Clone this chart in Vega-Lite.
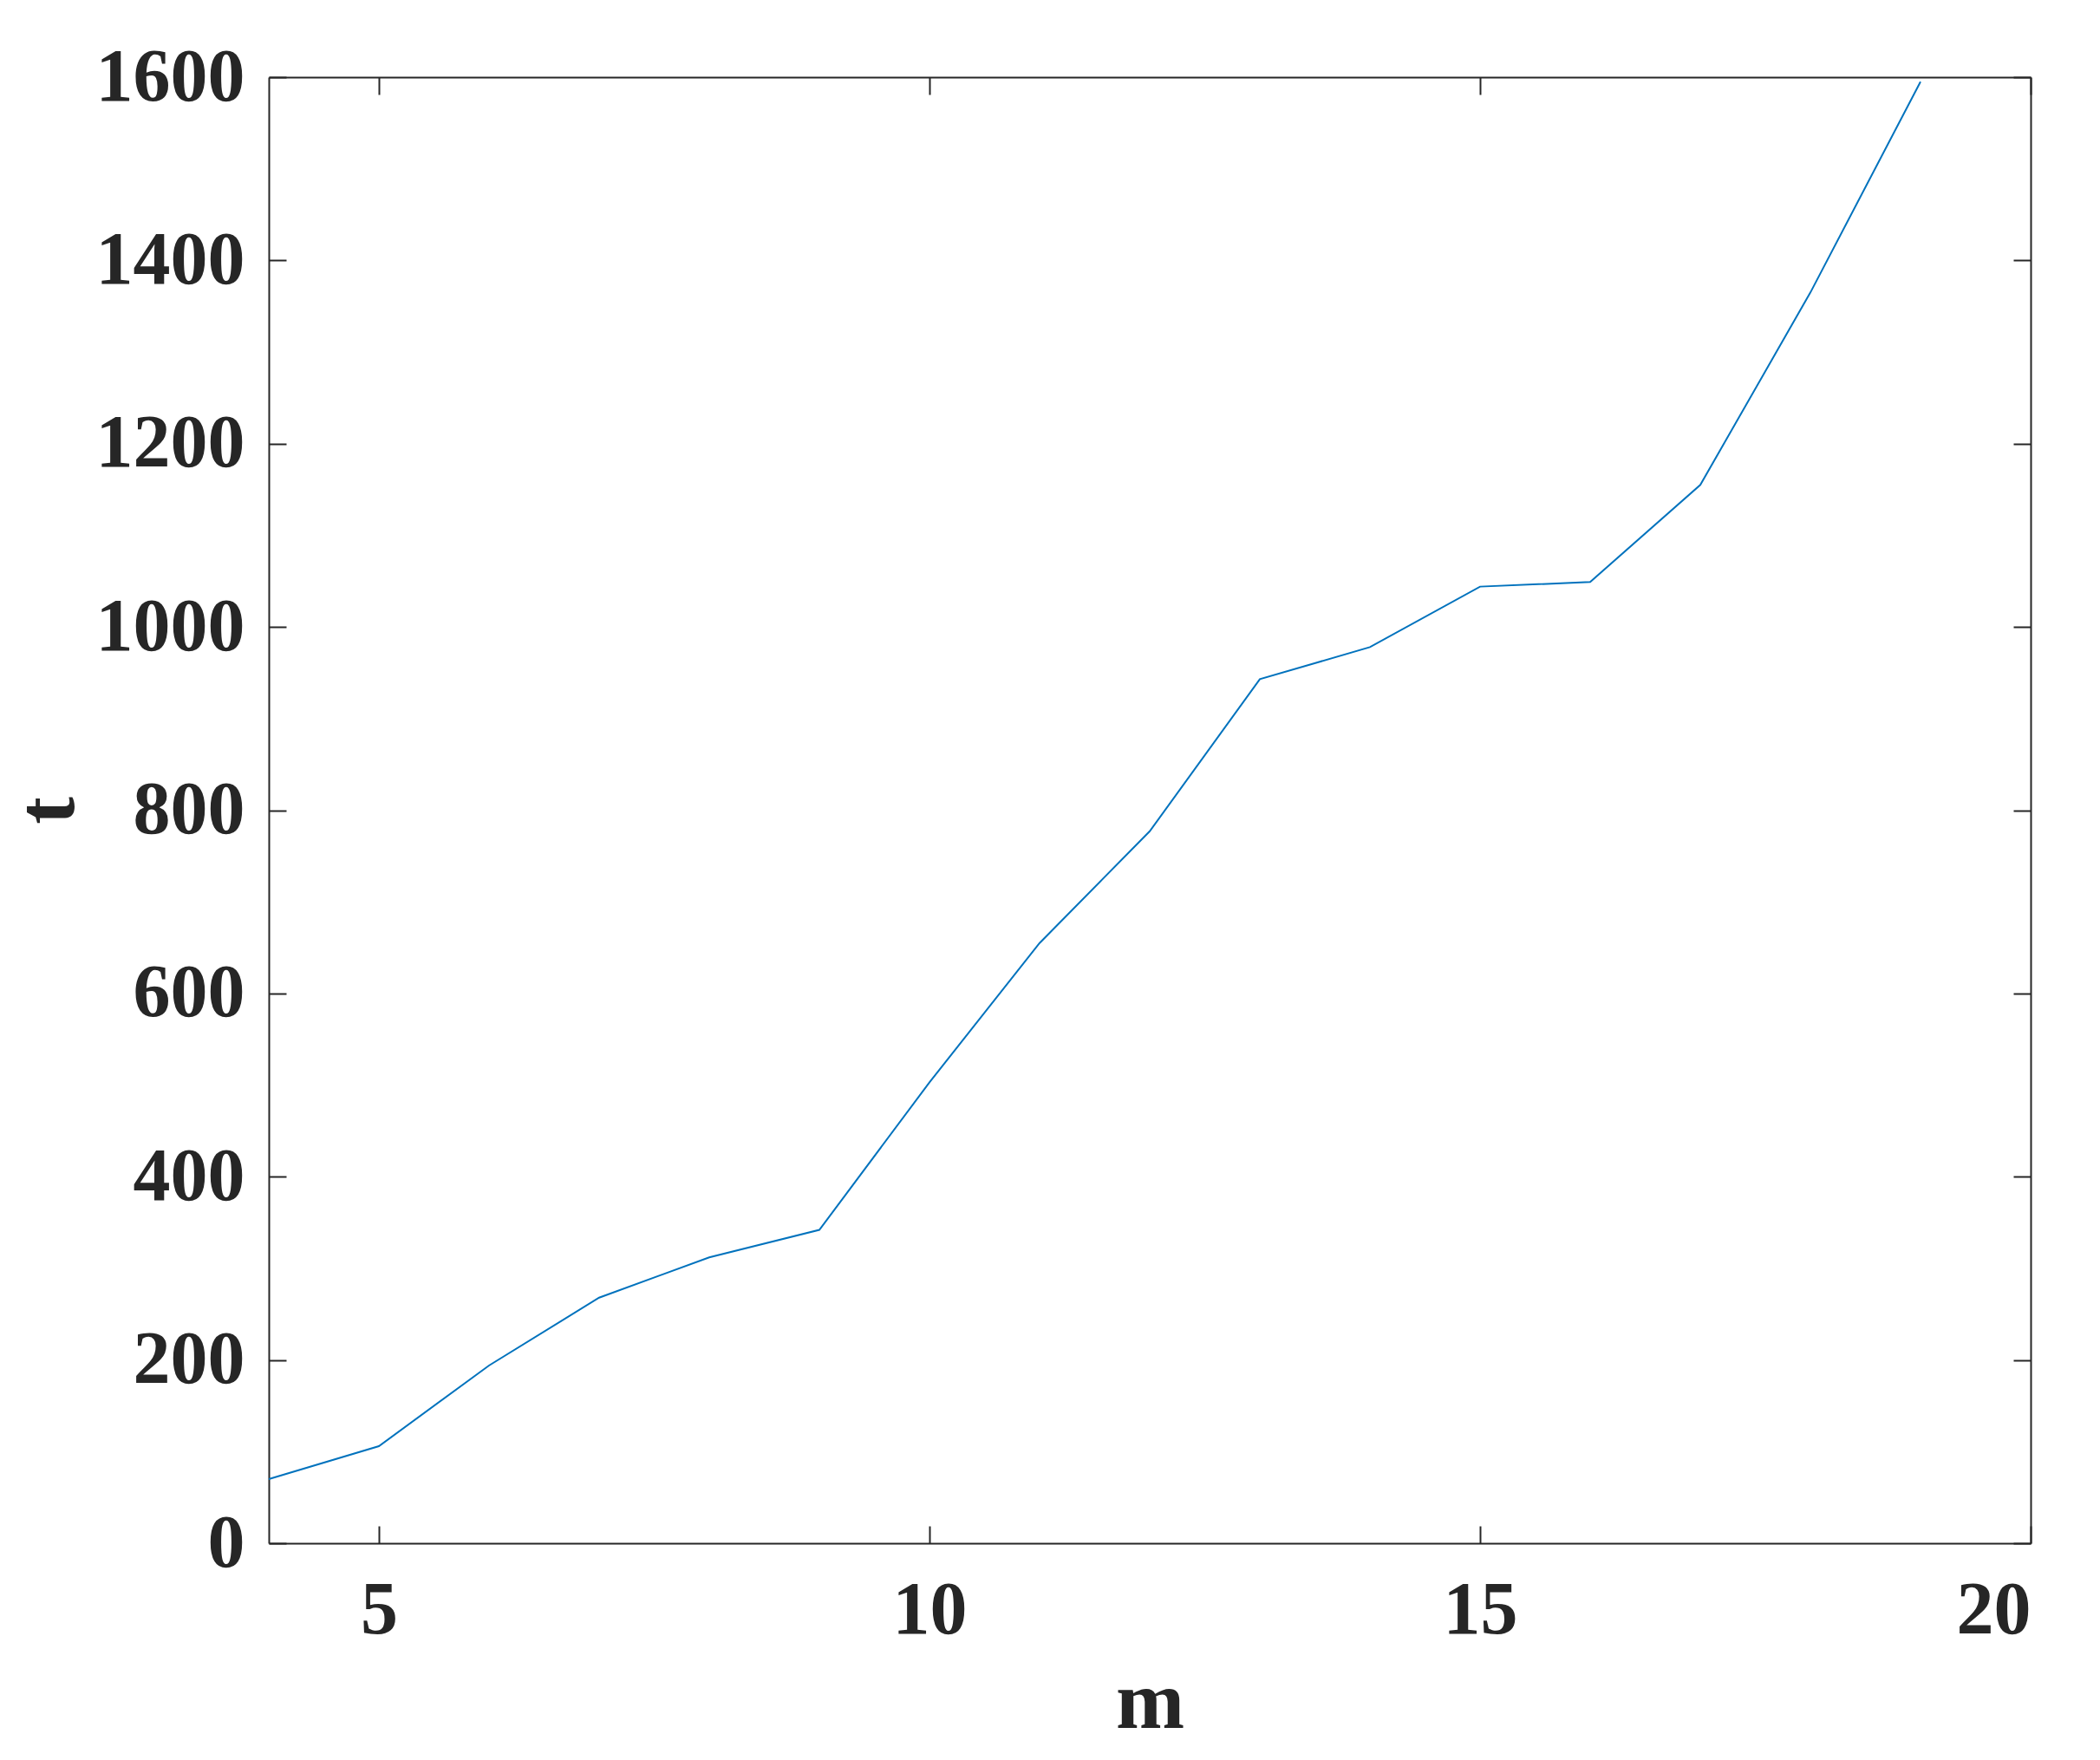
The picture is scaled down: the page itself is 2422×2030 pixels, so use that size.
{
  "$schema": "https://vega.github.io/schema/vega-lite/v6.json",
  "width": 2032,
  "height": 1691,
  "autosize": {"type": "none"},
  "padding": {"left": 310, "top": 89, "right": 80, "bottom": 250},
  "background": "white",
  "config": {
    "view": {"stroke": null},
    "axis": {
      "labelFont": "Liberation Serif",
      "labelFontWeight": "bold",
      "labelFontSize": 86,
      "labelColor": "#262626",
      "labelLimit": 0,
      "titleFont": "Liberation Serif",
      "titleFontWeight": "bold",
      "titleFontSize": 95,
      "titleColor": "#262626",
      "domainColor": "#262626",
      "domainWidth": 2,
      "tickColor": "#262626",
      "tickWidth": 2,
      "grid": false
    }
  },
  "data": {
    "values": [
      {"m": 4, "t": 70},
      {"m": 5, "t": 106},
      {"m": 6, "t": 194},
      {"m": 7, "t": 268},
      {"m": 8, "t": 312},
      {"m": 9, "t": 342},
      {"m": 10, "t": 503},
      {"m": 11, "t": 655},
      {"m": 12, "t": 777},
      {"m": 13, "t": 943},
      {"m": 14, "t": 978},
      {"m": 15, "t": 1044},
      {"m": 16, "t": 1049},
      {"m": 17, "t": 1155},
      {"m": 18, "t": 1365},
      {"m": 19, "t": 1595}
    ]
  },
  "layer": [
    {
      "mark": {"type": "line", "color": "#0072BD", "strokeWidth": 2},
      "encoding": {
        "x": {
          "field": "m", "type": "quantitative",
          "scale": {"domain": [4, 20], "nice": false, "zero": false},
          "axis": {"orient": "bottom", "values": [5, 10, 15, 20], "format": "d", "tickSize": -20, "labelPadding": 55, "title": "m", "titlePadding": 17}
        },
        "y": {
          "field": "t", "type": "quantitative",
          "scale": {"domain": [0, 1600], "nice": false},
          "axis": {"orient": "left", "values": [0, 200, 400, 600, 800, 1000, 1200, 1400, 1600], "format": "d", "tickSize": -20, "labelPadding": 48, "title": "t", "titlePadding": 6}
        }
      }
    },
    {
      "mark": {"type": "line", "opacity": 0},
      "encoding": {
        "x": {
          "field": "m", "type": "quantitative",
          "scale": {"domain": [4, 20], "nice": false, "zero": false},
          "axis": {"orient": "top", "values": [5, 10, 15, 20], "tickSize": -20, "labels": false, "title": null}
        },
        "y": {
          "field": "t", "type": "quantitative",
          "scale": {"domain": [0, 1600], "nice": false},
          "axis": {"orient": "right", "values": [0, 200, 400, 600, 800, 1000, 1200, 1400, 1600], "tickSize": -20, "labels": false, "title": null}
        }
      }
    }
  ],
  "resolve": {"axis": {"x": "independent", "y": "independent"}}
}
